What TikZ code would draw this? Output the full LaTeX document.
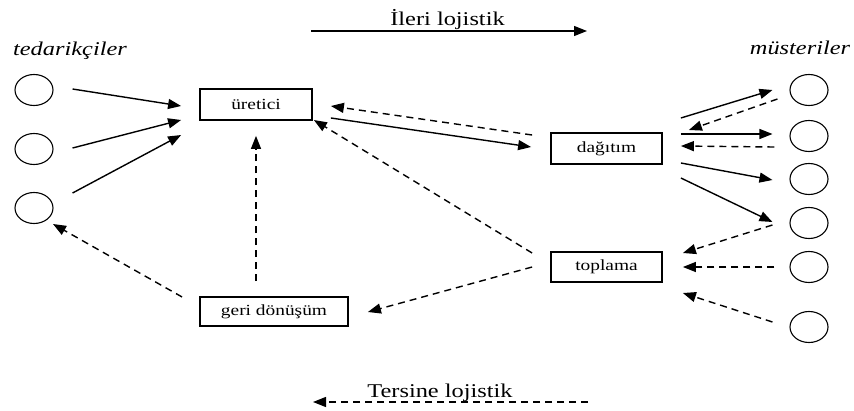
\documentclass[tikz,border=0pt]{standalone}
\usepackage{fontspec}
\setmainfont{Liberation Serif}[FakeStretch=1.25]
\usetikzlibrary{arrows.meta,shapes.geometric,calc}

\tikzset{
  stage/.style={draw,line width=1.8pt,inner sep=0pt,font=\fontsize{15.5}{16}\selectfont},
  party/.style={draw,ellipse,line width=1.1pt,minimum width=38pt,minimum height=31pt,inner sep=0pt},
  flow/.style={line width=1.4pt,-{Triangle[length=13pt,width=10pt]}},
  back/.style={flow,dash pattern=on 7pt off 5pt},
  group/.style={font=\fontsize{19.5}{20}\selectfont\itshape,anchor=base},
  heading/.style={font=\fontsize{19.5}{20}\selectfont,anchor=base}
}

\begin{document}
\begin{tikzpicture}[x=1pt,y=-1pt]
\useasboundingbox (0,0) rectangle (854,410);

% group labels
\node[group] (tlab) at (70,55) {tedarikçiler};
\node[group] (mlab) at (800,54) {müsteriler};

% suppliers
\node[party] (s1) at (34,90) {};
\node[party] (s2) at (34,149) {};
\node[party] (s3) at (34,208) {};

% customers
\node[party] (c1) at (809,90) {};
\node[party] (c2) at (809,136) {};
\node[party] (c3) at (809,179) {};
\node[party] (c4) at (809,223) {};
\node[party] (c5) at (809,267) {};
\node[party] (c6) at (809,327) {};

% stages of the chain
\node[stage,minimum width=112pt,minimum height=31pt] (ur) at (256,104.5) {üretici};
\node[stage,minimum width=111pt,minimum height=31pt] (dg) at (606.5,148.5) {dağıtım};
\node[stage,minimum width=111pt,minimum height=30pt] (tp) at (606.5,267) {toplama};
\node[stage,minimum width=148pt,minimum height=29pt] (gd) at (274,311.5) {geri dönüşüm};

% forward flows
\draw[flow] ($(s1.east)+(19,-1)$) -- ($(ur.west)+(-18,1.5)$);
\draw[flow] ($(s2.east)+(19,-1)$) -- ($(ur.west)+(-18,15.5)$);
\draw[flow] ($(s3.east)+(19,-15)$) -- ($(ur.west)+(-18,30.5)$);
\draw[flow] ($(ur.east)+(18,13.5)$) -- ($(dg.west)+(-19,-1.5)$);
\draw[flow] ($(dg.east)+(18,-30.5)$) -- ($(c1.west)+(-17,0)$);
\draw[flow] ($(dg.east)+(18,-14.5)$) -- ($(c2.west)+(-17,-2)$);
\draw[flow] ($(dg.east)+(18,14.5)$) -- ($(c3.west)+(-17,1)$);
\draw[flow] ($(dg.east)+(18,29.5)$) -- ($(c4.west)+(-17,-1)$);

% return flows
\draw[back] ($(dg.west)+(-18,-13.5)$) -- ($(ur.east)+(18,1.5)$);
\draw[back] ($(tp.west)+(-18,-14)$) -- ($(ur.east)+(1,15.5)$);
\draw[back] ($(gd.north)+(-18,-15)$) -- ($(ur.south)+(0,15)$);
\draw[back] ($(gd.west)+(-17,-14.5)$) -- ($(s3.center)+(19,16)$);
\draw[back] ($(tp.west)+(-18,0)$) -- ($(gd.east)+(19,0.5)$);
\draw[back] ($(c1.west)+(-12,9)$) -- ($(dg.east)+(26,-18.5)$);
\draw[back] ($(c2.west)+(-15,11)$) -- ($(dg.east)+(18,-2.5)$);
\draw[back] ($(c4.west)+(-17,2)$) -- ($(tp.east)+(20,-14)$);
\draw[back] ($(c5.west)+(-15,0)$) -- ($(tp.east)+(20,0)$);
\draw[back] ($(c6.west)+(-17,-5)$) -- ($(tp.east)+(20,26)$);

% direction legend
\coordinate (fwdA) at (311,31);
\coordinate (fwdB) at (587,31);
\draw[flow,line width=1.2pt] (fwdA) -- (fwdB);
\node[heading] (fwdlab) at (447.5,25) {İleri lojistik};

\coordinate (revA) at (588,402);
\coordinate (revB) at (313,402);
\draw[back,line width=1.2pt] (revA) -- (revB);
\node[heading] (revlab) at (440,397) {Tersine lojistik};
\end{tikzpicture}
\end{document}
